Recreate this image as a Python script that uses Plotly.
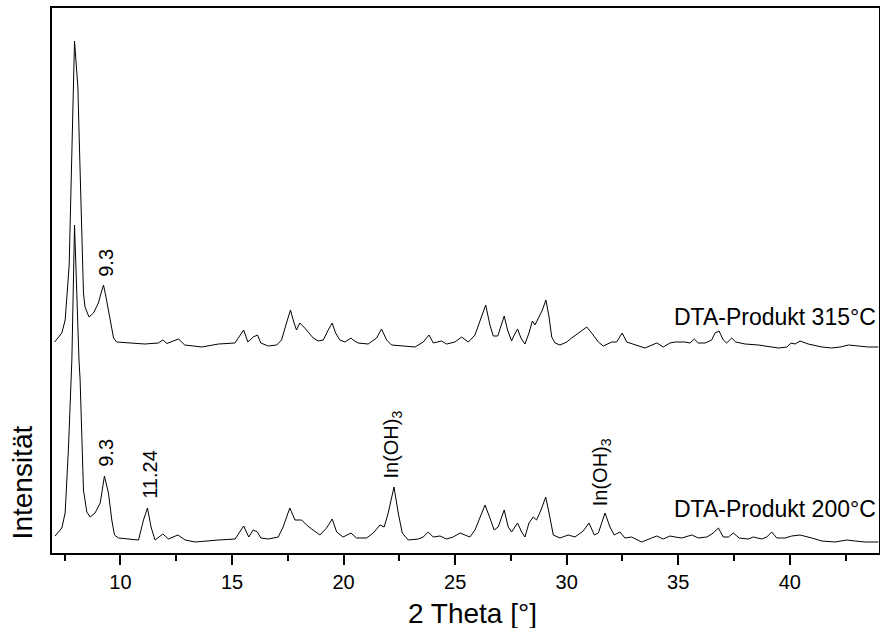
import plotly.graph_objects as go

# ---- data (2 theta in degrees, intensity in arbitrary units, upper pattern stacked) ----
two_theta_315 = [7.05, 7.37, 7.52, 7.70, 7.94, 8.09, 8.14, 8.34, 8.41, 8.59, 8.79, 9.01, 9.13, 9.24, 9.35, 9.53,
                 9.69, 9.83, 10.42, 11.09, 11.70, 11.90, 12.08, 12.60, 12.88, 13.65, 14.39, 15.13, 15.52, 15.71,
                 15.95, 16.14, 16.29, 16.62, 17.00, 17.22, 17.44, 17.62, 17.78, 17.89, 18.04, 18.14, 18.26, 18.41,
                 18.64, 18.86, 19.09, 19.31, 19.49, 19.64, 19.83, 20.06, 20.33, 20.43, 20.65, 21.10, 21.48, 21.70,
                 21.93, 22.15, 22.75, 23.20, 23.57, 23.83, 24.02, 24.39, 24.62, 24.99, 25.29, 25.59, 25.89, 26.11,
                 26.37, 26.56, 26.71, 26.91, 27.05, 27.20, 27.35, 27.53, 27.65, 27.80, 27.95, 28.13, 28.31, 28.46,
                 28.58, 28.73, 28.91, 29.07, 29.21, 29.33, 29.48, 29.70, 30.00, 30.22, 30.60, 30.90, 31.12, 31.42,
                 31.64, 32.02, 32.24, 32.49, 32.69, 33.14, 33.51, 34.04, 34.33, 34.63, 34.86, 35.30, 35.53, 35.72,
                 35.90, 36.20, 36.50, 36.65, 36.83, 37.02, 37.17, 37.40, 37.58, 38.00, 38.59, 39.49, 39.87, 40.06,
                 40.24, 40.46, 40.83, 41.44, 41.88, 42.26, 42.63, 43.08, 43.52, 43.97]
intensity_315 = [211, 220, 233, 288, 512, 466, 423, 260, 246, 236, 240, 250, 260, 268, 256, 233,
                 215, 211, 210, 209, 210, 213, 209.5, 214, 208, 206, 209, 210, 223, 211,
                 216, 218, 210, 207, 208, 213, 230, 243, 230, 223, 230, 228, 225, 221,
                 215, 212, 213, 223, 230, 220, 213, 211, 215, 213, 210, 209, 215, 224,
                 213, 208, 207, 206, 211, 218, 210, 212, 209, 211, 216, 211, 218, 231,
                 248, 228, 217, 217, 226, 237, 223, 212, 218, 224, 215, 209, 220, 232,
                 228, 235, 243, 253, 236, 216, 210, 208, 211, 215, 221, 226, 220, 211,
                 207, 211, 211, 220, 211, 208, 205, 210, 206, 210, 211, 211, 210, 214,
                 210, 210, 213, 220, 222, 213, 210, 215, 211, 209, 208, 205, 206, 210,
                 209, 212, 209, 206, 205, 206, 208, 207, 206, 206]

two_theta_200 = [7.07, 7.37, 7.52, 7.67, 7.82, 7.94, 8.14, 8.19, 8.34, 8.49, 8.64, 8.86, 9.09, 9.28, 9.46, 9.61,
                 9.73, 9.91, 10.81, 11.03, 11.21, 11.37, 11.55, 11.90, 12.15, 12.57, 12.90, 13.35, 14.39, 15.14,
                 15.52, 15.75, 15.95, 16.14, 16.29, 16.62, 17.07, 17.29, 17.59, 17.82, 18.12, 18.34, 18.57, 18.94,
                 19.24, 19.49, 19.69, 19.98, 20.33, 20.58, 21.03, 21.33, 21.63, 21.82, 22.00, 22.26, 22.45, 22.63,
                 22.90, 23.35, 23.57, 23.79, 24.02, 24.32, 24.62, 24.91, 25.22, 25.66, 25.89, 26.11, 26.34, 26.56,
                 26.75, 26.93, 27.20, 27.38, 27.53, 27.80, 27.98, 28.13, 28.31, 28.50, 28.65, 28.85, 29.06, 29.21,
                 29.40, 29.70, 30.07, 30.37, 30.74, 31.00, 31.24, 31.42, 31.72, 31.94, 32.13, 32.39, 32.61, 32.91,
                 33.36, 33.81, 34.04, 34.33, 34.63, 34.86, 35.16, 35.61, 35.90, 36.28, 36.57, 36.80, 37.02, 37.25,
                 37.47, 37.73, 38.14, 38.37, 38.74, 38.97, 39.19, 39.42, 39.79, 40.09, 40.46, 40.99, 41.44, 42.03,
                 42.56, 42.93, 43.38, 43.97]
intensity_200 = [17, 25, 40, 106, 193, 328, 193, 173, 63, 41, 36, 40, 50, 77, 60, 33,
                 18, 15, 13, 33, 45, 26, 13, 19, 14, 18, 13, 11, 13, 14,
                 27, 16, 23, 21, 15, 14, 16, 26, 45, 33, 33, 28, 24, 18,
                 25, 34, 21, 16, 20, 15, 15, 20, 28, 26, 40, 66, 40, 20,
                 13, 14, 16, 21, 16, 17, 14, 16, 20, 16, 23, 36, 48, 35,
                 23, 26, 43, 26, 21, 30, 21, 16, 30, 36, 33, 43, 56, 40,
                 18, 15, 18, 16, 22, 30, 18, 20, 40, 26, 18, 21, 15, 16,
                 11, 15, 17, 14, 17, 16, 15, 18, 15, 16, 20, 25, 16, 16,
                 20, 15, 14, 16, 14, 16, 21, 15, 15, 17, 18, 15, 12, 11,
                 13, 12, 11, 11]

x_tick_vals = [10, 15, 20, 25, 30, 35, 40]
x_tick_text = ["10", "15", "20", "25", "30", "35", "40"]

# peak labels: text, 2theta, intensity at label foot
peak_label_text = ["9.3", "9.3", "11.24", "In(OH)<sub>3</sub>", "In(OH)<sub>3</sub>"]
peak_label_x = [9.34, 9.34, 11.29, 22.15, 31.55]
peak_label_y = [275, 85, 53, 73, 46]

series_names = ["DTA-Produkt 315°C", "DTA-Produkt 200°C"]
series_label_y = [236, 44]

FONT = "Liberation Sans, Arial, Helvetica, sans-serif"

fig = go.Figure()
fig.add_trace(go.Scatter(x=two_theta_315, y=intensity_315, mode="lines",
                         line=dict(color="black", width=1), name=series_names[0], showlegend=False))
fig.add_trace(go.Scatter(x=two_theta_200, y=intensity_200, mode="lines",
                         line=dict(color="black", width=1), name=series_names[1], showlegend=False))

annotations = []
for t, x, y in zip(peak_label_text, peak_label_x, peak_label_y):
    annotations.append(dict(x=x, y=y, xref="x", yref="y", text=t, textangle=-90, showarrow=False,
                            xanchor="center", yanchor="bottom", borderpad=0,
                            font=dict(family=FONT, size=20, color="black")))
for name, y in zip(series_names, series_label_y):
    annotations.append(dict(x=0.997, y=y, xref="paper", yref="y", text=name, showarrow=False,
                            xanchor="right", yanchor="middle", borderpad=0,
                            font=dict(family=FONT, size=23, color="black")))
annotations.append(dict(x=-0.036, y=0.13, xref="paper", yref="paper", text="Intensität", textangle=-90,
                        showarrow=False, xanchor="center", yanchor="middle",
                        font=dict(family=FONT, size=28, color="black")))
annotations.append(dict(x=0.508, y=-0.111, xref="paper", yref="paper", text="2 Theta [°]",
                        showarrow=False, xanchor="center", yanchor="middle",
                        font=dict(family=FONT, size=28, color="black")))

fig.update_layout(
    width=880, height=628,
    margin=dict(l=52, r=1, t=8, b=75, autoexpand=False),
    paper_bgcolor="white", plot_bgcolor="white",
    font=dict(family=FONT, size=20, color="black"),
    annotations=annotations,
    xaxis=dict(range=[6.93, 44.0], showgrid=False, zeroline=False, showline=True, linecolor="black",
               linewidth=2, mirror=True, ticks="outside", ticklen=10, tickwidth=2, tickcolor="black",
               tickvals=x_tick_vals, ticktext=x_tick_text, tickfont=dict(family=FONT, size=20, color="black"),
               minor=dict(dtick=2.5, tick0=7.5, ticks="outside", ticklen=6, tickwidth=2, tickcolor="black",
                          showgrid=False)),
    yaxis=dict(range=[0, 545], showgrid=False, zeroline=False, showline=True, linecolor="black",
               linewidth=2, mirror=True, ticks="", showticklabels=False),
)

fig.write_html("out.html", config={"displayModeBar": False},
               post_script="document.body.style.margin='0';document.body.style.padding='0';")
